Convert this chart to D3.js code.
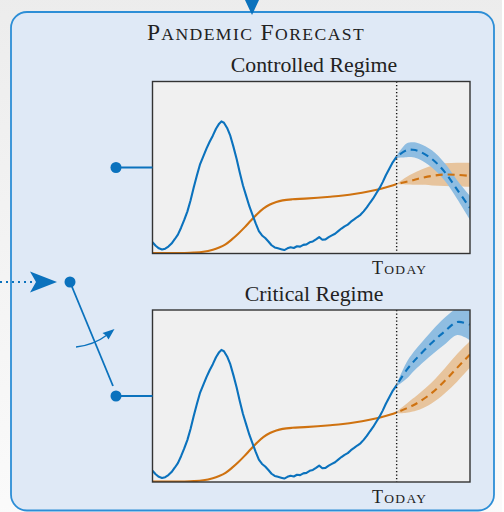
<!DOCTYPE html>
<html>
<head>
<meta charset="utf-8">
<script src="https://cdn.jsdelivr.net/npm/d3@7"></script>
<style>
  body { margin: 0; background: #fff; }
  svg { display: block; }
</style>
</head>
<body>
<svg id="fig" width="504" height="512"></svg>
<script>
// history, shared by both regimes (x in % of the plot width, y in % of plot height)
const caseDays = [0,1,2,3,4,5,6,7,8,9,10,11,12,13,14,15,16,17,18,19,20,21,21.7,22.5,23.5,24.5,25.5,26.5,27.5,28.5,29.5,30.5,31.5,32.5,33.5,34.5,35.5,36.5,37.5,38.5,39.5,40.5,41.5,42.5,43.5,44.5,45.5,46.5,47.5,48.5,49.5,50.5,51.5,52.5,53.5,54.5,55.5,56.5,57.5,58.5,59.5,60.5,61.5,62.5,63.5,64.5,65.5,66.5,67.5,68.5,69.5,70.5,71.5,72.5,73.5,74.5,75.5,76.9]
const caseHist = [6.5,4.5,3.0,2.3,2.8,4.0,5.8,8.3,11.0,15.0,19.5,24.5,31.0,38.5,45.5,52.0,56.5,61.0,65.0,68.5,72.5,75.5,76.8,76.0,73.0,68.5,62.0,55.0,47.0,39.5,33.5,27.5,22.5,17.5,13.0,10.5,9.0,7.0,4.8,3.5,3.0,2.5,2.0,3.0,3.6,3.2,4.2,4.0,5.0,5.3,6.5,7.0,8.2,9.5,8.0,8.2,9.5,10.5,11.5,13.0,14.5,15.8,16.8,18.5,19.8,21.2,22.5,24.5,26.8,29.5,32.0,35.0,38.0,41.5,45.5,49.0,52.5,56.3]

const deathDays = [0,5,10,13,16,19,21,23,25,27,29,31,33,35,37,39,41,44,48,52,56,60,64,68,72,75,76.9]
const deathHist = [0.2,0.2,0.3,0.5,1.0,2.2,3.5,5.3,8.2,11.5,15.2,19.2,23.0,26.2,28.5,30.0,30.9,31.5,31.9,32.4,33.0,33.7,34.7,36.0,37.6,39.2,40.4]

const today = 76.9
const fcDays = [76.9,80,82,84,88,92,96,100]

// controlled regime forecast
const ctrlCases   = [56.3,60.0,60.3,59.4,55.0,47.5,37.0,26.5]
const ctrlCasesHi = [57.0,64.0,64.7,64.0,60.0,52.6,42.5,33.5]
const ctrlCasesLo = [55.6,56.0,55.9,54.8,50.0,42.4,31.5,19.5]
const ctrlDeaths   = [40.4,41.7,42.6,43.6,45.1,45.9,45.7,45.1]
const ctrlDeathsHi = [40.6,44.5,46.5,48.3,51.0,52.4,52.8,52.8]
const ctrlDeathsLo = [40.2,40.1,40.0,39.9,39.6,39.2,38.9,38.8]

// critical regime forecast
const critCases   = [56.3,65.0,69.5,73.5,81.0,87.5,93.0,91.5]
const critCasesHi = [57.0,69.5,75.0,79.5,88.0,95.5,101.0,102.0]
const critCasesLo = [55.6,60.0,64.0,67.5,74.0,80.0,85.5,82.5]
const critDeaths   = [40.4,42.8,44.5,46.6,51.8,58.7,66.5,74.2]
const critDeathsHi = [40.9,45.5,48.5,51.5,58.0,66.0,74.5,82.0]
const critDeathsLo = [39.9,40.3,41.0,42.0,45.8,51.5,58.5,66.5]

const BLUE = "#0b72bd", ORANGE = "#cf7210"
const BLUE_BAND = "#8fbde1", ORANGE_BAND = "#e7c49d"
const SERIF = "'Liberation Serif', 'Times New Roman', serif"

const svg = d3.select("#fig")
const defs = svg.append("defs")

// page backdrop
const bg = defs.append("linearGradient").attr("id", "bg").attr("x1", 0).attr("y1", 0).attr("x2", 0).attr("y2", 1)
bg.append("stop").attr("offset", "0%").attr("stop-color", "#ececec")
bg.append("stop").attr("offset", "100%").attr("stop-color", "#fbfbfb")
svg.append("rect").attr("x", -20).attr("y", -20).attr("width", 522).attr("height", 560)
  .attr("rx", 16).attr("fill", "url(#bg)")

// outer panel
svg.append("rect").attr("x", 11).attr("y", 12).attr("width", 483).attr("height", 498.5)
  .attr("rx", 16).attr("fill", "#dfe9f6").attr("stroke", "#2d8ed6").attr("stroke-width", 1.8)

// incoming arrow at the top
svg.append("path").attr("d", "M245,0 L259,0 L252,15 Z").attr("fill", BLUE)

function smallCaps(text, str, size) {
  str.split(" ").forEach((w, i) => {
    text.append("tspan").attr("font-size", size).text((i ? " " : "") + w[0])
    text.append("tspan").attr("font-size", size * 0.75).text(w.slice(1).toUpperCase())
  })
}

const title = svg.append("text").attr("x", 256).attr("y", 40).attr("text-anchor", "middle")
  .attr("font-family", SERIF).attr("fill", "#222").attr("letter-spacing", 1.4)
smallCaps(title, "Pandemic Forecast", 23.5)

const x = d3.scaleLinear().domain([0, 100]).range([152.5, 470])

function drawRegime(top, name, fc, idx) {
  const h = 172
  const y = d3.scaleLinear().domain([0, 100]).range([top + h, top])
  const g = svg.append("g")

  g.append("text").attr("x", 314).attr("y", top - 9.5).attr("text-anchor", "middle")
    .attr("font-family", SERIF).attr("font-size", 21.8).attr("fill", "#222").text(name)

  g.append("rect").attr("x", x(0)).attr("y", top).attr("width", x(100) - x(0)).attr("height", h)
    .attr("fill", "#f0f0f0")

  defs.append("clipPath").attr("id", "clip" + idx).append("rect")
    .attr("x", x(0)).attr("y", top).attr("width", x(100) - x(0)).attr("height", h)
  const plot = g.append("g").attr("clip-path", `url(#clip${idx})`)

  const line = d3.line().x(d => x(d[0])).y(d => y(d[1])).curve(d3.curveCatmullRom)
  const band = d3.area().x(d => x(d[0])).y0(d => y(d[1])).y1(d => y(d[2])).curve(d3.curveCatmullRom)

  const deathFc = fcDays.map((d, i) => [d, fc.deathsLo[i], fc.deathsHi[i]])
  const caseFc = fcDays.map((d, i) => [d, fc.casesLo[i], fc.casesHi[i]])

  plot.append("path").attr("d", band(deathFc)).attr("fill", ORANGE_BAND)
  plot.append("path").attr("d", band(caseFc)).attr("fill", BLUE_BAND)

  plot.append("path").attr("d", line(deathDays.map((d, i) => [d, deathHist[i]])))
    .attr("fill", "none").attr("stroke", ORANGE).attr("stroke-width", 2.1)
  plot.append("path").attr("d", line(fcDays.map((d, i) => [d, fc.deaths[i]])))
    .attr("fill", "none").attr("stroke", ORANGE).attr("stroke-width", 2.1).attr("stroke-dasharray", "7,5")
    .attr("stroke-dashoffset", -4)

  plot.append("path").attr("d", d3.line().x(d => x(d[0])).y(d => y(d[1]))(caseDays.map((d, i) => [d, caseHist[i]])))
    .attr("fill", "none").attr("stroke", BLUE).attr("stroke-width", 2.1).attr("stroke-linejoin", "round")
  plot.append("path").attr("d", line(fcDays.map((d, i) => [d, fc.cases[i]])))
    .attr("fill", "none").attr("stroke", BLUE).attr("stroke-width", 2.1).attr("stroke-dasharray", "7,5")
    .attr("stroke-dashoffset", -4)

  // today marker
  g.append("line").attr("x1", x(today)).attr("x2", x(today)).attr("y1", top).attr("y2", top + h)
    .attr("stroke", "#111").attr("stroke-width", 1.4).attr("stroke-dasharray", "1.3,2.2")

  g.append("rect").attr("x", x(0)).attr("y", top).attr("width", x(100) - x(0)).attr("height", h)
    .attr("fill", "none").attr("stroke", "#333").attr("stroke-width", 1.4)

  const lab = g.append("text").attr("x", x(today) + 3).attr("y", top + h + 20.8).attr("text-anchor", "middle")
    .attr("font-family", SERIF).attr("fill", "#222").attr("letter-spacing", 1.3)
  smallCaps(lab, "Today", 18)

  // connector to the switch side
  const cy = y(50)
  g.append("line").attr("x1", 116).attr("x2", x(0)).attr("y1", cy).attr("y2", cy)
    .attr("stroke", BLUE).attr("stroke-width", 1.8)
  g.append("circle").attr("cx", 116).attr("cy", cy).attr("r", 5.5).attr("fill", BLUE)
}

drawRegime(81.5, "Controlled Regime", {
  cases: ctrlCases, casesHi: ctrlCasesHi, casesLo: ctrlCasesLo,
  deaths: ctrlDeaths, deathsHi: ctrlDeathsHi, deathsLo: ctrlDeathsLo
}, 0)
drawRegime(310, "Critical Regime", {
  cases: critCases, casesHi: critCasesHi, casesLo: critCasesLo,
  deaths: critDeaths, deathsHi: critDeathsHi, deathsLo: critDeathsLo
}, 1)

// switch
svg.append("line").attr("x1", 0).attr("x2", 34).attr("y1", 282).attr("y2", 282)
  .attr("stroke", BLUE).attr("stroke-width", 2).attr("stroke-dasharray", "2,4")
svg.append("path").attr("d", "M57,282 L30,271.5 L36,282 L30,292.5 Z").attr("fill", BLUE)
svg.append("line").attr("x1", 70).attr("y1", 282).attr("x2", 113).attr("y2", 386)
  .attr("stroke", BLUE).attr("stroke-width", 1.8)
svg.append("circle").attr("cx", 70).attr("cy", 282).attr("r", 5.5).attr("fill", BLUE)

// rotation hint
svg.append("path").attr("d", "M76,347 Q94,345 107,335").attr("fill", "none")
  .attr("stroke", BLUE).attr("stroke-width", 1.3)
svg.append("path").attr("d", "M114.5,329 L102.5,333 L106,335.5 L108.5,339.5 Z").attr("fill", BLUE)
</script>
</body>
</html>
